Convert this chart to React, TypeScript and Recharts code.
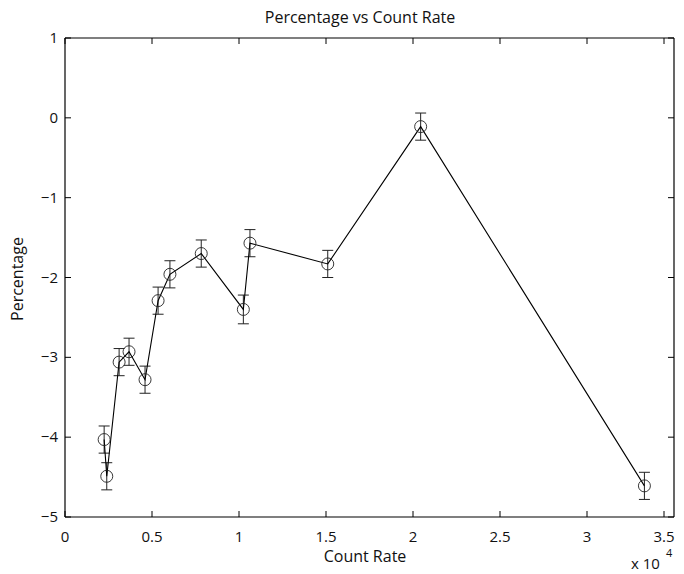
import React from 'react';
import { LineChart, Line, XAxis, YAxis, ErrorBar } from 'recharts';

// values (count rate in counts, percentage)
const countRate = [2250, 2400, 3110, 3680, 4600, 5350, 6030, 7830, 10250, 10630, 15100, 20440, 33300];
const percentage = [-4.03, -4.49, -3.06, -2.93, -3.28, -2.29, -1.96, -1.7, -2.4, -1.57, -1.83, -0.11, -4.61];
const errors = [0.17, 0.17, 0.17, 0.17, 0.17, 0.17, 0.17, 0.17, 0.18, 0.17, 0.17, 0.17, 0.17];

const xTicks = [0, 5000, 10000, 15000, 20000, 25000, 30000, 35000];
const yTicks = [-5, -4, -3, -2, -1, 0, 1];

const FONT = '"Open Sans", sans-serif';
const TICK = 6;

const data = countRate.map((x, i) => ({ x, y: percentage[i], err: errors[i] }));

const fmtY = (v: number) => (v < 0 ? '\u2212' + Math.abs(v) : String(v));

// ticks drawn inward, MATLAB style
const BottomTick = (props: any) => {
  const { x, y, payload } = props;
  return (
    <g>
      <line x1={x} y1={y} x2={x} y2={y - TICK} stroke="#000" />
      <text x={x} y={y + 25} textAnchor="middle" fontSize={15} fontFamily={FONT} fill="#111">
        {payload.value / 10000}
      </text>
    </g>
  );
};

const TopTick = (props: any) => {
  const { x, y } = props;
  return <line x1={x} y1={y} x2={x} y2={y + TICK} stroke="#000" />;
};

const LeftTick = (props: any) => {
  const { x, y, payload } = props;
  return (
    <g>
      <line x1={x} y1={y} x2={x + TICK} y2={y} stroke="#000" />
      <text x={x - 7} y={y + 5} textAnchor="end" fontSize={15} fontFamily={FONT} fill="#111">
        {fmtY(payload.value)}
      </text>
    </g>
  );
};

const RightTick = (props: any) => {
  const { x, y } = props;
  return <line x1={x} y1={y} x2={x - TICK} y2={y} stroke="#000" />;
};

const OpenCircle = (props: any) => {
  const { cx, cy, index } = props;
  return <circle key={index} cx={cx} cy={cy} r={6} fill="none" stroke="#222" strokeWidth={0.9} />;
};

const App = () => {
  return (
    <div style={{ position: 'absolute', left: 0, top: 0, width: 684, height: 574, background: '#fff' }}>
      <LineChart
        width={684}
        height={574}
        data={data}
        margin={{ top: 37, right: 9, bottom: 17, left: 25 }}
      >
        <XAxis
          xAxisId="bottom"
          dataKey="x"
          type="number"
          domain={[0, 35000]}
          ticks={xTicks}
          height={40}
          axisLine={{ stroke: '#000', strokeWidth: 1.2 }}
          tickLine={false}
          tickSize={0}
          tickMargin={0}
          tick={<BottomTick />}
          allowDataOverflow
        />
        <XAxis
          xAxisId="top"
          orientation="top"
          dataKey="x"
          type="number"
          domain={[0, 35000]}
          ticks={xTicks}
          height={1}
          axisLine={{ stroke: '#000', strokeWidth: 1.2 }}
          tickLine={false}
          tickSize={0}
          tickMargin={0}
          tick={<TopTick />}
        />
        <YAxis
          yAxisId="left"
          type="number"
          domain={[-5, 1]}
          ticks={yTicks}
          width={40}
          axisLine={{ stroke: '#000', strokeWidth: 1.2 }}
          tickLine={false}
          tickSize={0}
          tickMargin={0}
          tick={<LeftTick />}
          allowDataOverflow
        />
        <YAxis
          yAxisId="right"
          orientation="right"
          type="number"
          domain={[-5, 1]}
          ticks={yTicks}
          width={1}
          axisLine={{ stroke: '#000', strokeWidth: 1.2 }}
          tickLine={false}
          tickSize={0}
          tickMargin={0}
          tick={<RightTick />}
        />
        <Line
          xAxisId="bottom"
          yAxisId="left"
          dataKey="y"
          type="linear"
          stroke="#000"
          strokeWidth={1.1}
          dot={OpenCircle}
          activeDot={false}
          isAnimationActive={false}
        >
          <ErrorBar dataKey="err" direction="y" width={5.5} stroke="#222" strokeWidth={1} />
        </Line>
        <Line
          xAxisId="top"
          yAxisId="right"
          dataKey="y"
          stroke="none"
          dot={false}
          activeDot={false}
          legendType="none"
          isAnimationActive={false}
        />
      </LineChart>
      <svg
        width={684}
        height={574}
        style={{ position: 'absolute', left: 0, top: 0, pointerEvents: 'none' }}
      >
        <text x={360} y={23} textAnchor="middle" fontSize={16} fontFamily={FONT} fill="#111">
          Percentage vs Count Rate
        </text>
        <text x={365} y={562} textAnchor="middle" fontSize={16} fontFamily={FONT} fill="#111">
          Count Rate
        </text>
        <text
          x={0}
          y={0}
          transform="translate(23,279) rotate(-90)"
          textAnchor="middle"
          fontSize={16}
          fontFamily={FONT}
          fill="#111"
        >
          Percentage
        </text>
        <text x={631} y={569} fontSize={15} fontFamily={FONT} fill="#111">
          x 10
        </text>
        <text x={666} y={557} fontSize={11} fontFamily={FONT} fill="#111">
          4
        </text>
      </svg>
    </div>
  );
};

export default App;
